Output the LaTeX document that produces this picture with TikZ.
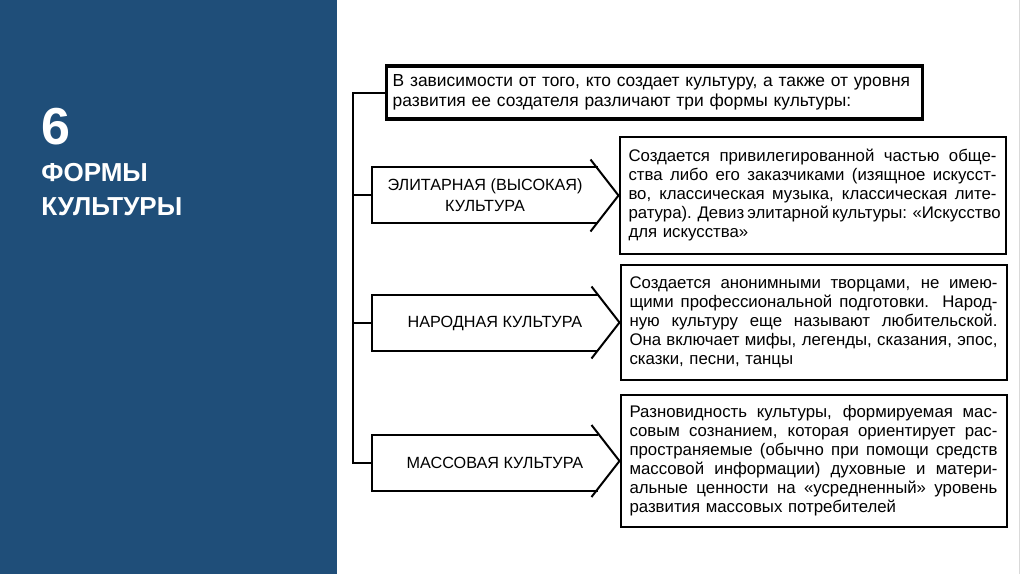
\documentclass[tikz,border=0pt]{standalone}
\usepackage{fontspec}
\setmainfont{Liberation Sans}
\definecolor{panelblue}{RGB}{31,78,121}
% one justified line of a description
\newcommand{\jl}[1]{\makebox[184pt][s]{\spaceskip=0pt\xspaceskip=0pt #1}\\}

\begin{document}
\begin{tikzpicture}[x=0.5pt, y=-0.5pt,
    % thin black line
    line/.style={line width=1pt, black},
    % title text on the blue panel
    title/.style={anchor=west, inner sep=0pt, text=white, font=\bfseries\fontsize{13}{14}\selectfont},
    % framed introduction
    introbox/.style={
        draw,
        line width=1.75pt,
        minimum width=268pt,
        minimum height=26.5pt,
        text width=262pt,
        inner xsep=3pt,
        align=left,
        font=\fontsize{8.7}{10}\selectfont
    },
    % label inside an arrow
    arrowbox/.style={
        minimum width=113pt,
        minimum height=27.5pt,
        align=center,
        font=\fontsize{8.1}{10.5}\selectfont
    },
    % description box
    descbox/.style={
        draw,
        line width=1pt,
        text width=184pt,
        inner xsep=4.5pt,
        align=left,
        font=\fontsize{8.4}{9.5}\selectfont
    }
]
    \useasboundingbox (0,0) rectangle (1024,574);
    \fill[white] (0,0) rectangle (1024,574);
    \draw[gray!30, line width=0.5pt] (1019,0) -- (1019,574);

    % ================== blue panel ==================
    \fill[panelblue] (0,0) rectangle (337,574);
    \node[title, font=\bfseries\fontsize{26}{26}\selectfont] (num) at (41,127) {6};
    \node[title] (forms) at (41,173) {ФОРМЫ};
    \node[title] (culture) at (41,207) {КУЛЬТУРЫ};

    % ================== intro ==================
    \node[introbox] (intro) at (654.7,92.5) {В зависимости от того, кто создает культуру, а также от уровня\\развития ее создателя различают три формы культуры:};

    % ================== descriptions ==================
    \node[descbox, minimum height=58.5pt] (elite_txt) at (812.5,195.5) {%
        \jl{Создается привилегированной частью обще-}%
        \jl{ства либо его заказчиками (изящное искусст-}%
        \jl{во, классическая музыка, классическая лите-}%
        \jl{ратура). Девиз элитарной культуры: «Искусство}%
        для искусства»};
    \node[descbox, minimum height=57.5pt] (folk_txt) at (813.5,322.5) {%
        \jl{Создается анонимными творцами, не имею-}%
        \jl{щими профессиональной подготовки. Народ-}%
        \jl{ную культуру еще называют любительской.}%
        \jl{Она включает мифы, легенды, сказания, эпос,}%
        сказки, песни, танцы};
    \node[descbox, minimum height=66pt] (mass_txt) at (813.5,461) {%
        \jl{Разновидность культуры, формируемая мас-}%
        \jl{совым сознанием, которая ориентирует рас-}%
        \jl{пространяемые (обычно при помощи средств}%
        \jl{массовой информации) духовные и матери-}%
        \jl{альные ценности на «усредненный» уровень}%
        развития массовых потребителей};

    % ================== arrows ==================
    \node[arrowbox] (elite) at (485,194.9) {ЭЛИТАРНАЯ (ВЫСОКАЯ)\\КУЛЬТУРА};
    \node[arrowbox] (folk) at (485,323) {\hspace*{10pt}НАРОДНАЯ КУЛЬТУРА};
    \node[arrowbox] (mass) at (485,463) {\hspace*{10pt}МАССОВАЯ КУЛЬТУРА};

    \foreach \n in {elite, folk, mass} {
        \draw[line] (\n.north east) -- (\n.north west) -- (\n.south west) -- (\n.south east);
        \draw[line] ([shift={(-14pt,18pt)}]\n_txt.west) -- (\n_txt.west) -- ([shift={(-14pt,-18pt)}]\n_txt.west);
    }

    % ================== trunk ==================
    \coordinate (trunk) at (353,92.5);
    \draw[line] (intro.west) -- (trunk) |- (mass.west);
    \draw[line] (trunk |- elite.west) -- (elite.west);
    \draw[line] (trunk |- folk.west) -- (folk.west);

\end{tikzpicture}
\end{document}
